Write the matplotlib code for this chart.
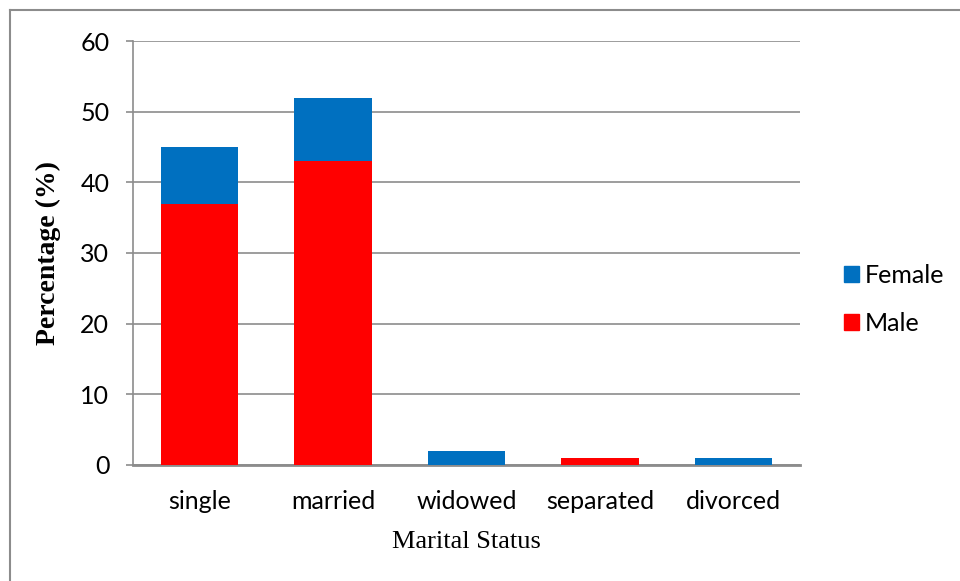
import matplotlib.pyplot as plt
from matplotlib.lines import Line2D
from matplotlib.patches import Patch
import numpy as np

# data
categories = ['single', 'married', 'widowed', 'separated', 'divorced']
male = [37, 43, 0, 1, 0]
female = [8, 9, 2, 0, 1]
yticks = [0, 10, 20, 30, 40, 50, 60]

blue = '#0070C0'
red = '#FF0000'
grey = '#8C8C8C'
sans = ['Lato', 'DejaVu Sans']
serif = ['Liberation Serif', 'DejaVu Serif']

fig = plt.figure(figsize=(9.6, 5.81), dpi=100)
ax = fig.add_axes([0.1385, 0.1997, 0.6948, 0.7297])

x = np.arange(len(categories))
ax.bar(x, male, width=0.58, color=red, zorder=3)
ax.bar(x, female, width=0.58, bottom=male, color=blue, zorder=3)

ax.set_xlim(-0.5, len(categories) - 0.5)
ax.set_ylim(0, 60)
ax.set_yticks(yticks)
ax.set_xticks(x)
ax.set_xticklabels(categories, family=sans, fontsize=18)
ax.set_yticklabels([str(t) for t in yticks], family=sans, fontsize=18)
ax.yaxis.grid(True, color=grey, lw=1.2, zorder=0)
ax.tick_params(axis='x', length=0, pad=18)
ax.tick_params(axis='y', length=5, width=1.2, color=grey, pad=12)

for s in ['top', 'right']:
    ax.spines[s].set_visible(False)
ax.spines['left'].set_color(grey)
ax.spines['left'].set_linewidth(1.2)
ax.spines['bottom'].set_color(grey)
ax.spines['bottom'].set_linewidth(2)

ax.set_ylabel('Percentage (%)', family=serif, fontsize=20, fontweight='bold', labelpad=14)
ax.set_xlabel('Marital Status', family=serif, fontsize=19, labelpad=13)

handles = [Patch(color=blue, label='Female'), Patch(color=red, label='Male')]
leg = ax.legend(handles=handles, loc='center left', bbox_to_anchor=(1.032, 0.39),
                frameon=False, handlelength=0.6, handleheight=0.6,
                handletextpad=0.25, labelspacing=1.0,
                prop={'family': sans, 'size': 18})

# outer chart frame (left and top edges visible)
fig.add_artist(Line2D([0.0099, 0.0099], [0, 0.982], color=grey, lw=1.5, transform=fig.transFigure))
fig.add_artist(Line2D([0.0099, 1], [0.982, 0.982], color=grey, lw=1.5, transform=fig.transFigure))

fig.savefig('out.png', dpi=100, facecolor='white')
